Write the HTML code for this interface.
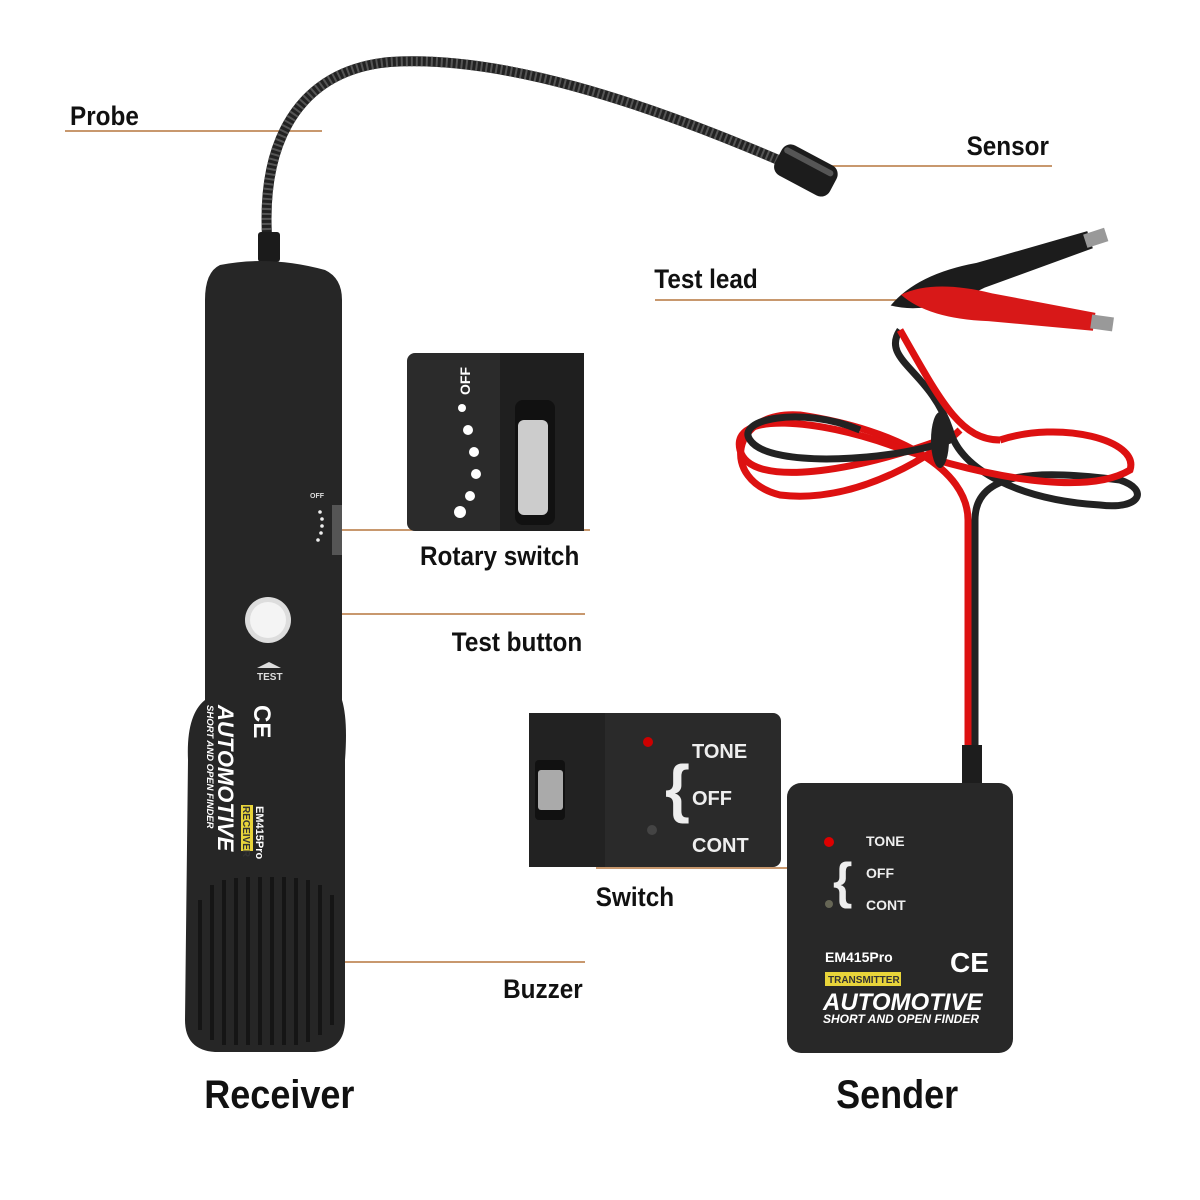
<!DOCTYPE html>
<html><head><meta charset="utf-8"><style>
html,body{margin:0;padding:0;background:#fff;width:1200px;height:1200px;overflow:hidden}
svg{display:block}
text{font-family:"Liberation Sans",sans-serif;font-weight:bold}
</style></head><body>
<svg width="1200" height="1200" viewBox="0 0 1200 1200">
<rect width="1200" height="1200" fill="#fff"/>
<g stroke="#b5773e" stroke-width="1.5" fill="none">
<line x1="65" y1="131" x2="322" y2="131"/>
<line x1="800" y1="166" x2="1052" y2="166"/>
<line x1="655" y1="300" x2="925" y2="300"/>
<line x1="330" y1="530" x2="590" y2="530"/>
<line x1="290" y1="614" x2="585" y2="614"/>
<line x1="596" y1="868" x2="842" y2="868"/>
<line x1="335" y1="962" x2="585" y2="962"/>
</g>
<g fill="#111" font-size="27" transform="scale(0.9,1)">
<text x="77.8" y="125">Probe</text>
<text x="1074" y="155">Sensor</text>
<text x="727" y="288">Test lead</text>
<text x="466.7" y="565">Rotary switch</text>
<text x="502" y="651">Test button</text>
<text x="662" y="906">Switch</text>
<text x="559" y="998">Buzzer</text>
</g>
<g fill="#111" font-size="40" transform="scale(0.9,1)">
<text x="227" y="1108">Receiver</text>
<text x="929" y="1108">Sender</text>
</g>
<path d="M268,250 C258,140 300,70 390,62 C500,55 640,100 790,165" stroke="#222" stroke-width="10" fill="none"/>
<path d="M268,250 C258,140 300,70 390,62 C500,55 640,100 790,165" stroke="#555" stroke-width="10" fill="none" stroke-dasharray="2 3"/>
<g transform="translate(805,170) rotate(28)"><rect x="-30" y="-17" width="62" height="34" rx="10" fill="#1c1c1c"/><rect x="-28" y="-12" width="55" height="6" rx="3" fill="#555"/></g>
<rect x="258" y="232" width="22" height="30" rx="3" fill="#1b1b1b"/>
<path d="M220,265 Q270,255 325,270 Q342,278 342,300 L342,700 Q348,720 345,760 L345,1020 Q345,1050 315,1052 L215,1052 Q185,1050 185,1020 L188,760 Q186,715 205,700 L205,300 Q205,272 220,265 Z" fill="#262626"/>
<g stroke="#151515" stroke-width="4">
<line x1="200" y1="900" x2="200" y2="1030"/><line x1="212" y1="885" x2="212" y2="1040"/><line x1="224" y1="880" x2="224" y2="1045"/><line x1="236" y1="878" x2="236" y2="1045"/><line x1="248" y1="877" x2="248" y2="1045"/><line x1="260" y1="877" x2="260" y2="1045"/><line x1="272" y1="877" x2="272" y2="1045"/><line x1="284" y1="877" x2="284" y2="1045"/><line x1="296" y1="878" x2="296" y2="1045"/><line x1="308" y1="880" x2="308" y2="1042"/><line x1="320" y1="885" x2="320" y2="1035"/><line x1="332" y1="895" x2="332" y2="1025"/>
</g>
<circle cx="268" cy="620" r="23" fill="#ddd"/><circle cx="268" cy="620" r="18" fill="#f4f4f4"/>
<text x="257" y="680" fill="#ddd" font-size="10">TEST</text>
<path d="M257,668 L269,662 L281,668 Z" fill="#ddd"/>
<g transform="translate(300,490)" fill="#eee"><circle cx="20" cy="22" r="1.8"/><circle cx="22" cy="29" r="1.8"/><circle cx="22" cy="36" r="1.8"/><circle cx="21" cy="43" r="1.8"/><circle cx="18" cy="50" r="1.8"/></g>
<text x="310" y="498" fill="#ddd" font-size="7">OFF</text>
<rect x="332" y="505" width="10" height="50" fill="#555"/>
<g fill="#fff">
<text transform="translate(218,705) rotate(90)" font-size="22" font-style="italic">AUTOMOTIVE</text>
<text transform="translate(207,705) rotate(90)" font-size="9.5" font-style="italic">SHORT AND OPEN FINDER</text>
<rect x="241" y="805" width="12" height="46" fill="#e8d43a"/>
<text transform="translate(243,806) rotate(90)" font-size="10" fill="#333" font-weight="normal">RECEIVER</text>
<text transform="translate(256,806) rotate(90)" font-size="11">EM415Pro</text>
<text transform="translate(254,705) rotate(90)" font-size="24" font-weight="normal">CE</text>
</g>
<rect x="407" y="353" width="177" height="178" rx="8" fill="#2b2b2b"/>
<rect x="500" y="353" width="84" height="178" fill="#1f1f1f"/>
<rect x="515" y="400" width="40" height="125" rx="8" fill="#111"/>
<rect x="518" y="420" width="30" height="95" rx="6" fill="#ccc"/>
<g fill="#fff"><circle cx="462" cy="408" r="4"/><circle cx="468" cy="430" r="5"/><circle cx="474" cy="452" r="5"/><circle cx="476" cy="474" r="5"/><circle cx="470" cy="496" r="5"/><circle cx="460" cy="512" r="6"/></g>
<text x="0" y="0" transform="translate(470,395) rotate(-90)" fill="#fff" font-size="14">OFF</text>
<rect x="529" y="713" width="252" height="154" rx="8" fill="#2a2a2a"/>
<rect x="529" y="713" width="76" height="154" fill="#222"/>
<rect x="535" y="760" width="30" height="60" rx="4" fill="#111"/>
<rect x="538" y="770" width="25" height="40" rx="3" fill="#aaa"/>
<circle cx="648" cy="742" r="5" fill="#c00"/><circle cx="652" cy="830" r="5" fill="#444"/>
<text x="665" y="810" fill="#eee" font-size="64" font-weight="normal">{</text>
<g fill="#eee" font-size="20"><text x="692" y="758">TONE</text><text x="692" y="805">OFF</text><text x="692" y="852">CONT</text></g>
<g fill="none" stroke-width="7">
<path d="M968,775 L968,520 C968,470 900,430 800,415 C730,410 720,480 780,495 C860,505 940,450 960,430" stroke="#d11"/>
<path d="M975,775 L975,520 C975,470 1040,470 1120,480 C1150,490 1140,510 1100,505 C1020,500 960,470 950,430 C930,370 880,360 900,330" stroke="#222"/>
<path d="M940,440 C860,470 750,490 740,450 C730,410 820,420 890,445 C960,470 1080,500 1130,470 C1140,440 1060,420 1000,440" stroke="#d11"/>
<path d="M1000,440 C960,440 940,400 900,330" stroke="#d11"/>
<path d="M950,440 C900,460 770,470 750,440 C735,420 800,405 860,430" stroke="#222"/>
</g>
<ellipse cx="940" cy="440" rx="9" ry="28" fill="#222"/>
<rect x="962" y="745" width="20" height="40" fill="#1d1d1d"/>
<g transform="translate(1000,270) rotate(-18)"><path d="M-115,0 Q-80,-22 -20,-14 L95,-10 L95,8 L-20,12 Q-80,22 -115,0Z" fill="#1c1c1c"/><rect x="90" y="-8" width="22" height="14" fill="#999"/></g>
<g transform="translate(1010,310) rotate(8)"><path d="M-110,0 Q-80,-20 -20,-14 L85,-9 L85,9 L-20,14 Q-80,20 -110,0Z" fill="#d81818"/><rect x="82" y="-7" width="22" height="14" fill="#999"/></g>
<rect x="787" y="783" width="226" height="270" rx="14" fill="#282828"/>
<circle cx="829" cy="842" r="5" fill="#d00"/><circle cx="829" cy="904" r="4" fill="#665"/>
<text x="833" y="898" fill="#eee" font-size="50" font-weight="normal">{</text>
<g fill="#eee" font-size="14"><text x="866" y="846">TONE</text><text x="866" y="878">OFF</text><text x="866" y="910">CONT</text></g>
<text x="825" y="962" fill="#fff" font-size="14">EM415Pro</text>
<text x="950" y="972" fill="#fff" font-size="28" font-weight="normal">CE</text>
<rect x="825" y="972" width="76" height="14" fill="#e8d43a"/>
<text x="828" y="983" fill="#333" font-size="10" font-weight="normal">TRANSMITTER</text>
<text x="823" y="1010" fill="#fff" font-size="24" font-style="italic">AUTOMOTIVE</text>
<text x="823" y="1023" fill="#fff" font-size="12" font-style="italic">SHORT AND OPEN FINDER</text>
</svg>
</body></html>
